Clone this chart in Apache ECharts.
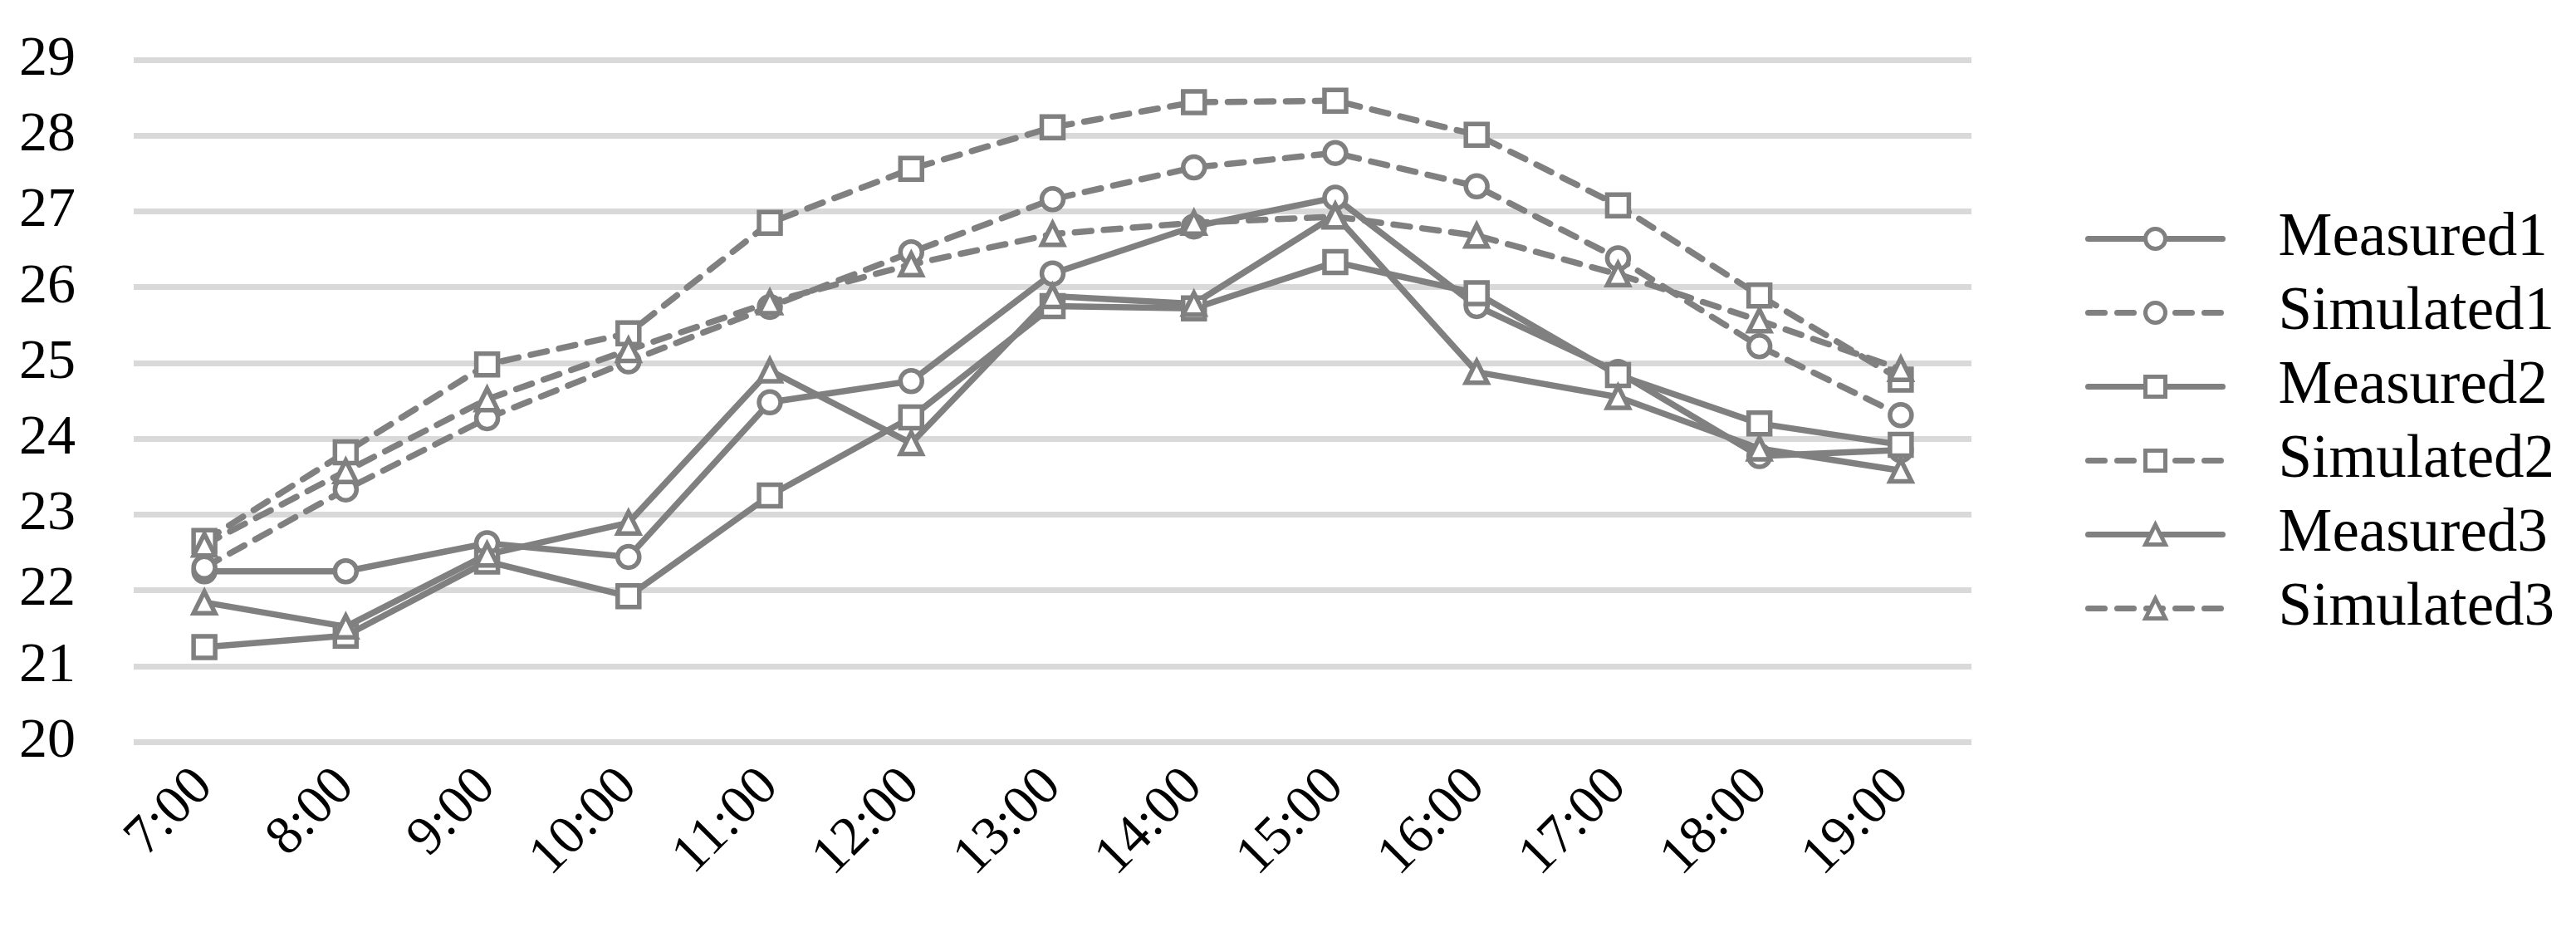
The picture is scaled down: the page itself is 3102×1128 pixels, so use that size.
<!DOCTYPE html>
<html>
<head>
<meta charset="utf-8">
<style>
  html, body { margin: 0; padding: 0; background: #fff; }
  #chart { width: 3102px; height: 1128px; }
</style>
<script src="https://cdn.jsdelivr.net/npm/echarts@6/dist/echarts.min.js"></script>
</head>
<body>
<div id="chart"></div>
<script>
const hours = ['7:00', '8:00', '9:00', '10:00', '11:00', '12:00', '13:00', '14:00', '15:00', '16:00', '17:00', '18:00', '19:00']
const measured1 = [22.25, 22.25, 22.62, 22.44, 24.48, 24.76, 26.18, 26.8, 27.18, 25.75, 24.88, 23.77, 23.85]
const simulated1 = [22.3, 23.33, 24.27, 25.02, 25.74, 26.46, 27.16, 27.58, 27.77, 27.33, 26.38, 25.22, 24.31]
const measured2 = [21.25, 21.4, 22.38, 21.92, 23.25, 24.28, 25.75, 25.72, 26.33, 25.92, 24.84, 24.2, 23.92]
const simulated2 = [22.65, 23.82, 24.98, 25.39, 26.85, 27.56, 28.11, 28.44, 28.46, 28.01, 27.08, 25.89, 24.78]
const measured3 = [21.84, 21.52, 22.47, 22.89, 24.9, 23.94, 25.88, 25.78, 26.95, 24.88, 24.55, 23.87, 23.58]
const simulated3 = [22.6, 23.57, 24.52, 25.17, 25.8, 26.3, 26.7, 26.85, 26.93, 26.68, 26.17, 25.56, 24.92]

const grey = '#808080'
const serif = "'Liberation Serif', 'Times New Roman', serif"

function makeSeries(name, data, symbol, dashed) {
  return {
    name: name,
    type: 'line',
    data: data,
    symbol: symbol,
    symbolSize: 26,
    showSymbol: true,
    itemStyle: { color: '#fff', borderColor: grey, borderWidth: 5.5 },
    lineStyle: {
      color: grey,
      width: 7.5,
      type: dashed ? [20, 15] : 'solid',
      cap: 'round'
    },
    animation: false
  }
}

const chart = echarts.init(document.getElementById('chart'))
chart.setOption({
  backgroundColor: '#fff',
  grid: { left: 161, right: 728, top: 72, bottom: 235 },
  legend: {
    orient: 'vertical',
    left: 2506,
    top: 246,
    itemWidth: 162,
    itemHeight: 30,
    itemGap: 16,
    itemStyle: { borderWidth: 5 },
    lineStyle: { width: 7 },
    textStyle: {
      fontFamily: serif,
      fontSize: 73,
      lineHeight: 72,
      color: '#000',
      padding: [0, 0, 0, 62]
    },
    data: ['Measured1', 'Simulated1', 'Measured2', 'Simulated2', 'Measured3', 'Simulated3']
  },
  xAxis: {
    type: 'category',
    data: hours,
    boundaryGap: true,
    axisLine: { show: false },
    axisTick: { show: false },
    axisLabel: {
      rotate: 45,
      margin: 44,
      fontFamily: serif,
      fontSize: 66,
      color: '#000',
      interval: 0
    }
  },
  yAxis: {
    type: 'value',
    min: 20,
    max: 29,
    interval: 1,
    axisLine: { show: false },
    axisTick: { show: false },
    axisLabel: {
      margin: 70,
      fontFamily: serif,
      fontSize: 68,
      color: '#000'
    },
    splitLine: { lineStyle: { color: '#d9d9d9', width: 7 } }
  },
  series: [
    makeSeries('Measured1', measured1, 'circle', false),
    makeSeries('Simulated1', simulated1, 'circle', true),
    makeSeries('Measured2', measured2, 'rect', false),
    makeSeries('Simulated2', simulated2, 'rect', true),
    makeSeries('Measured3', measured3, 'triangle', false),
    makeSeries('Simulated3', simulated3, 'triangle', true)
  ]
})
</script>
</body>
</html>
